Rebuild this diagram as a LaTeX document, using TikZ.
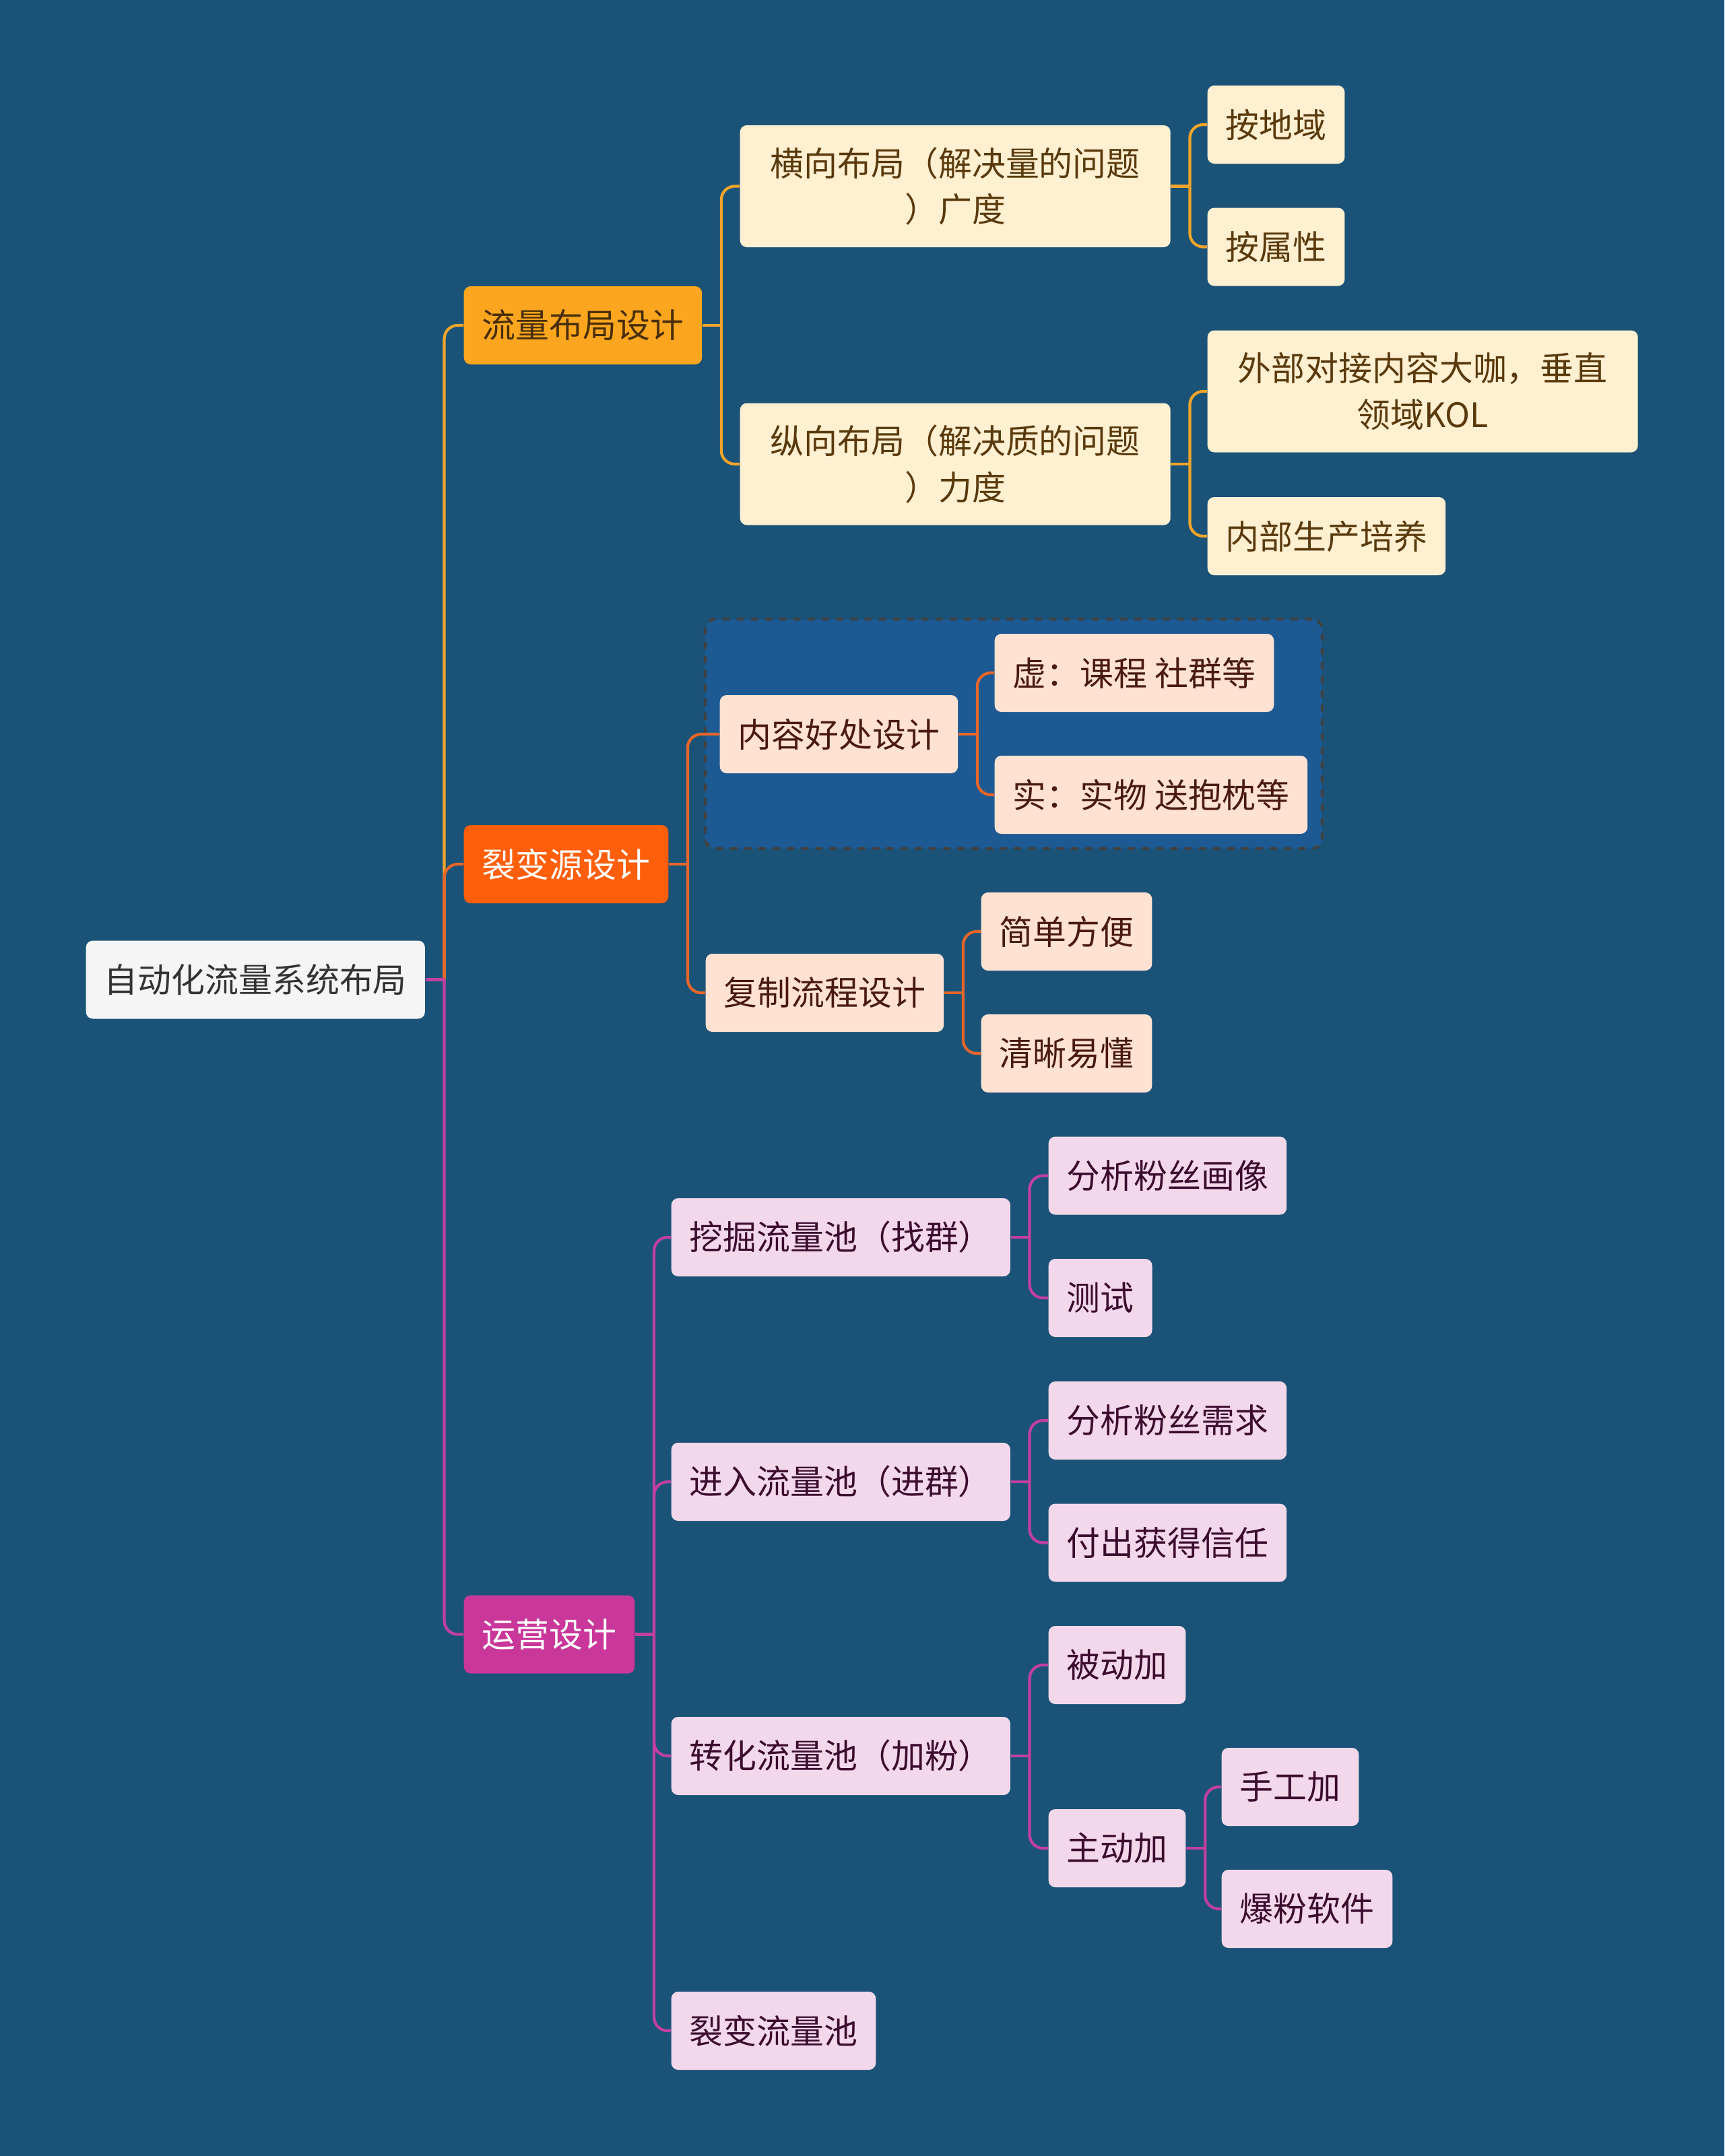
\documentclass[tikz,border=0pt]{standalone}
\usepackage{fontspec}
\newfontfamily\cjk{Noto Sans CJK SC}
\usepackage{tikz}
\usetikzlibrary{positioning,fit,backgrounds}

\definecolor{bgblue}{HTML}{1A5377}
\definecolor{grpblue}{HTML}{1D5A93}
\definecolor{orgA}{HTML}{FBA61E}
\definecolor{orgB}{HTML}{FF5E0A}
\definecolor{magC}{HTML}{C9379A}
\definecolor{lnA}{HTML}{F2A52A}
\definecolor{lnB}{HTML}{E8662A}
\definecolor{lnC}{HTML}{C23FA0}
\definecolor{creamA}{HTML}{FFF0D2}
\definecolor{peachB}{HTML}{FFE2D2}
\definecolor{pinkC}{HTML}{F3D8EB}
\definecolor{txtA}{HTML}{5A3A0C}
\definecolor{txtB}{HTML}{4A1A10}
\definecolor{txtC}{HTML}{3C0C2E}

\begin{document}
\begin{tikzpicture}[font=\cjk\fontsize{14.2pt}{19.6pt}\selectfont,
   nd/.style={rounded corners=0.1cm,anchor=west,inner xsep=0.27cm,inner ysep=0.1cm,minimum height=1.16cm},
   rootbox/.style={nd,fill=gray!8,text=black!80},
   lvA/.style={nd,fill=orgA,text=txtA!80!black},
   lvB/.style={nd,fill=orgB,text=white},
   lvC/.style={nd,fill=magC,text=white},
   subA/.style={nd,fill=creamA,text=txtA},
   subB/.style={nd,fill=peachB,text=txtB},
   subC/.style={nd,fill=pinkC,text=txtC},
   twoline/.style={text width=5.85cm,align=center,minimum height=1.81cm},
   lnk/.style={rounded corners=0.2cm,line width=1.2pt}]
  \begin{scope}[on background layer]
    \fill[bgblue] (0,0) rectangle (25.6,-32.01);
  \end{scope}
  \useasboundingbox (0,0) rectangle (25.6,-32.01);

  % root and main branches
  \node[rootbox] (root) at (1.27,-14.545) {自动化流量系统布局};
  \node[lvA] (flow) at (6.88,-4.83) {流量布局设计};
  \node[lvB] (fiss) at (6.88,-12.83) {裂变源设计};
  \node[lvC] (ops) at (6.88,-24.265) {运营设计};

  % flow layout
  \node[subA,twoline] (heng) at (10.98,-2.765) {横向布局（解决量的问题\\）广度};
  \node[subA,twoline] (zong) at (10.98,-6.89) {纵向布局（解决质的问题\\）力度};
  \node[subA] (diyu) at (17.92,-1.85) {按地域};
  \node[subA] (shuxing) at (17.92,-3.665) {按属性};
  \node[subA,twoline] (waibu) at (17.92,-5.81) {外部对接内容大咖，垂直\\领域KOL};
  \node[subA] (neibu) at (17.92,-7.96) {内部生产培养};

  % fission source
  \node[subB] (hao) at (10.68,-10.9) {内容好处设计};
  \node[subB] (xu) at (14.76,-9.99) {虚：课程 社群等};
  \node[subB] (shi) at (14.76,-11.8) {实：实物 送抱枕等};
  \begin{scope}[on background layer]
    \node[fit=(hao)(xu)(shi),inner sep=0.21cm,rounded corners=0.15cm,
      fill=grpblue,draw=black!75,dashed,line width=1.2pt] (grp) {};
  \end{scope}
  \node[subB] (fuzhi) at (10.47,-14.74) {复制流程设计};
  \node[subB] (jiandan) at (14.56,-13.83) {简单方便};
  \node[subB] (qingxi) at (14.56,-15.64) {清晰易懂};

  % operations
  \node[subC] (wajue) at (9.96,-18.37) {挖掘流量池（找群）};
  \node[subC] (huaxiang) at (15.56,-17.455) {分析粉丝画像};
  \node[subC] (ceshi) at (15.56,-19.27) {测试};
  \node[subC] (jinru) at (9.96,-22.0) {进入流量池（进群）};
  \node[subC] (xuqiu) at (15.56,-21.09) {分析粉丝需求};
  \node[subC] (xinren) at (15.56,-22.905) {付出获得信任};
  \node[subC] (zhuanhua) at (9.96,-26.07) {转化流量池（加粉）};
  \node[subC] (beidong) at (15.56,-24.72) {被动加};
  \node[subC] (zhudong) at (15.56,-27.44) {主动加};
  \node[subC] (shougong) at (18.13,-26.53) {手工加};
  \node[subC] (baofen) at (18.13,-28.34) {爆粉软件};
  \node[subC] (liebian) at (9.96,-30.15) {裂变流量池};

  % junctions
  \coordinate (jr) at ([xshift=0.28cm]root.east);
  \coordinate (jf) at ([xshift=0.28cm]flow.east);
  \coordinate (jh) at ([xshift=0.28cm]heng.east);
  \coordinate (jz) at ([xshift=0.28cm]zong.east);
  \coordinate (js) at ([xshift=0.28cm]fiss.east);
  \coordinate (jhao) at ([xshift=0.28cm]hao.east);
  \coordinate (jfz) at ([xshift=0.28cm]fuzhi.east);
  \coordinate (jo) at ([xshift=0.28cm]ops.east);
  \coordinate (jw) at ([xshift=0.28cm]wajue.east);
  \coordinate (jj) at ([xshift=0.28cm]jinru.east);
  \coordinate (jzh) at ([xshift=0.28cm]zhuanhua.east);
  \coordinate (jzd) at ([xshift=0.28cm]zhudong.east);

  % connectors
  \draw[lnk,lnA] (jr) |- (flow.west);
  \draw[lnk,lnB] (jr) |- (fiss.west);
  \draw[lnk,lnC] (jr) |- (ops.west);
  \draw[lnk,lnC] (root.east) -- (jr);

  \draw[lnk,lnA] (flow.east) -- (jf);
  \draw[lnk,lnA] (jf) |- (heng.west);
  \draw[lnk,lnA] (jf) |- (zong.west);
  \draw[lnk,lnA] (heng.east) -- (jh);
  \draw[lnk,lnA] (jh) |- (diyu.west);
  \draw[lnk,lnA] (jh) |- (shuxing.west);
  \draw[lnk,lnA] (zong.east) -- (jz);
  \draw[lnk,lnA] (jz) |- (waibu.west);
  \draw[lnk,lnA] (jz) |- (neibu.west);

  \draw[lnk,lnB] (fiss.east) -- (js);
  \draw[lnk,lnB] (js) |- (hao.west);
  \draw[lnk,lnB] (js) |- (fuzhi.west);
  \draw[lnk,lnB] (hao.east) -- (jhao);
  \draw[lnk,lnB] (jhao) |- (xu.west);
  \draw[lnk,lnB] (jhao) |- (shi.west);
  \draw[lnk,lnB] (fuzhi.east) -- (jfz);
  \draw[lnk,lnB] (jfz) |- (jiandan.west);
  \draw[lnk,lnB] (jfz) |- (qingxi.west);

  \draw[lnk,lnC] (ops.east) -- (jo);
  \foreach \c in {wajue,jinru,zhuanhua,liebian}
    \draw[lnk,lnC] (jo) |- (\c.west);
  \draw[lnk,lnC] (wajue.east) -- (jw);
  \draw[lnk,lnC] (jw) |- (huaxiang.west);
  \draw[lnk,lnC] (jw) |- (ceshi.west);
  \draw[lnk,lnC] (jinru.east) -- (jj);
  \draw[lnk,lnC] (jj) |- (xuqiu.west);
  \draw[lnk,lnC] (jj) |- (xinren.west);
  \draw[lnk,lnC] (zhuanhua.east) -- (jzh);
  \draw[lnk,lnC] (jzh) |- (beidong.west);
  \draw[lnk,lnC] (jzh) |- (zhudong.west);
  \draw[lnk,lnC] (zhudong.east) -- (jzd);
  \draw[lnk,lnC] (jzd) |- (shougong.west);
  \draw[lnk,lnC] (jzd) |- (baofen.west);
\end{tikzpicture}
\end{document}
